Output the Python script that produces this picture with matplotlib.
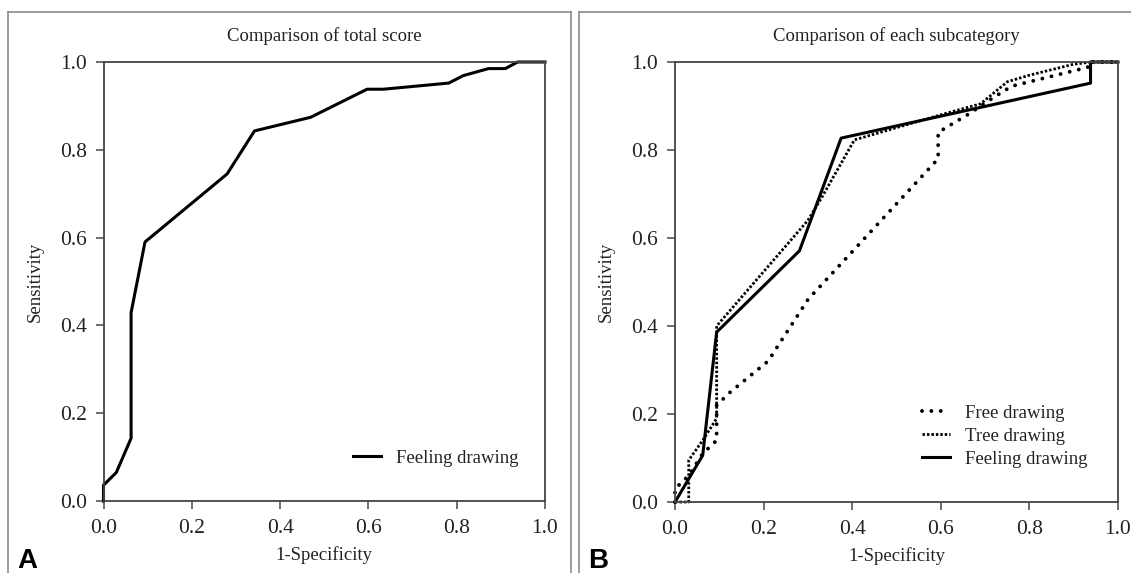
import numpy as np
import matplotlib
matplotlib.use("Agg")
import matplotlib.pyplot as plt
from matplotlib.lines import Line2D

plt.rcParams['font.family'] = ['Liberation Serif', 'DejaVu Serif']

# panel A: total score, feeling drawing
total_fpr = [0.0, 0.0, 0.029, 0.0625, 0.0625, 0.094, 0.28, 0.342, 0.469,
             0.597, 0.634, 0.782, 0.815, 0.872, 0.91, 0.938, 1.0]
total_tpr = [0.0, 0.036, 0.065, 0.143, 0.429, 0.59, 0.745, 0.843, 0.874,
             0.938, 0.938, 0.952, 0.969, 0.985, 0.985, 1.0, 1.0]

# panel B: each subcategory
free_fpr = [0.0, 0.0, 0.031, 0.0625, 0.094, 0.094, 0.125, 0.21, 0.30,
            0.594, 0.594, 0.66, 0.72, 0.76, 0.92, 0.938, 0.938, 1.0]
free_tpr = [0.0, 0.03, 0.06, 0.11, 0.14, 0.22, 0.25, 0.32, 0.46,
            0.78, 0.84, 0.88, 0.92, 0.945, 0.985, 0.99, 1.0, 1.0]

tree_fpr = [0.0, 0.031, 0.031, 0.0625, 0.094, 0.094, 0.30, 0.33, 0.405,
            0.60, 0.69, 0.75, 0.80, 0.90, 0.94, 1.0]
tree_tpr = [0.0, 0.0, 0.095, 0.14, 0.19, 0.40, 0.64, 0.69, 0.823,
            0.88, 0.905, 0.955, 0.97, 0.995, 1.0, 1.0]

feel_fpr = [0.0, 0.0625, 0.094, 0.281, 0.375, 0.938, 0.938, 1.0]
feel_tpr = [0.0, 0.106, 0.386, 0.571, 0.827, 0.952, 1.0, 1.0]

ticks = [0.0, 0.2, 0.4, 0.6, 0.8, 1.0]
tick_labels = ["0.0", "0.2", "0.4", "0.6", "0.8", "1.0"]

fig = plt.figure(figsize=(11.31, 5.73), dpi=100)
W, H = 1131, 573

def px(x0, y0, x1, y1):
    # pixel box -> figure fraction [left, bottom, width, height]
    return [x0 / W, 1 - y1 / H, (x1 - x0) / W, (y1 - y0) / H]

axA = fig.add_axes(px(103.5, 62, 545, 501))
axB = fig.add_axes(px(675, 62, 1118, 502))

fs = 13.5
txt = '#222222'

def style(ax, title):
    ax.set_xlim(0, 1)
    ax.set_ylim(0, 1)
    ax.set_xticks(ticks)
    ax.set_xticklabels(tick_labels)
    ax.set_yticks(ticks)
    ax.set_yticklabels(tick_labels)
    ax.tick_params(direction='out', length=6, width=1.2, color='#555555',
                   labelsize=15.5, labelcolor=txt)
    ax.tick_params(axis='x', pad=7)
    ax.tick_params(axis='y', pad=6)
    for s in ax.spines.values():
        s.set_color('#444444')
        s.set_linewidth(1.3)
    ax.set_title(title, fontsize=fs, color=txt, pad=15)
    ax.set_xlabel("1-Specificity", fontsize=fs, color=txt)
    ax.set_ylabel("Sensitivity", fontsize=fs, color=txt)
    ax.xaxis.set_label_coords(0.5, -0.102)
    ax.yaxis.set_label_coords(-0.135, 0.5)

axA.plot(total_fpr, total_tpr, color='black', lw=2.2, label="Feeling drawing",
         solid_joinstyle='round', clip_on=False)
style(axA, "Comparison of total score")
axA.legend(loc='lower right', bbox_to_anchor=(0.979, 0.04), frameon=False,
           fontsize=fs, handlelength=1.5, handletextpad=0.8, labelcolor=txt)

axB.plot(free_fpr, free_tpr, color='black', lw=2.8,
         linestyle=(0, (0.01, 2.4)), dash_capstyle='round',
         label="Free drawing", clip_on=False)
axB.plot(tree_fpr, tree_tpr, color='black', lw=2.0,
         linestyle=(0, (0.9, 0.7)), label="Tree drawing", clip_on=False)
axB.plot(feel_fpr, feel_tpr, color='black', lw=2.2,
         label="Feeling drawing", clip_on=False)
style(axB, "Comparison of each subcategory")
axB.legend(loc='lower right', bbox_to_anchor=(0.97, 0.04), frameon=False,
           fontsize=fs, handlelength=1.5, handletextpad=0.8, labelspacing=0.3,
           labelcolor=txt)

# panel frames (open at the bottom)
frame = '#8a8a8a'
for xs, ys in [([7.5, 7.5], [573, 12]), ([7.5, 571], [12, 12]), ([571, 571], [12, 573]),
               ([579, 579], [573, 12]), ([579, 1131], [12, 12])]:
    fig.add_artist(Line2D([x / W for x in xs], [1 - y / H for y in ys],
                          color=frame, lw=1.2))

fig.text(17 / W, 1 - 568 / H, "A", fontsize=20, fontweight='bold',
         family='Liberation Sans', color='black', va='baseline')
fig.text(588 / W, 1 - 568 / H, "B", fontsize=20, fontweight='bold',
         family='Liberation Sans', color='black', va='baseline')

fig.savefig("out.png", dpi=100)
